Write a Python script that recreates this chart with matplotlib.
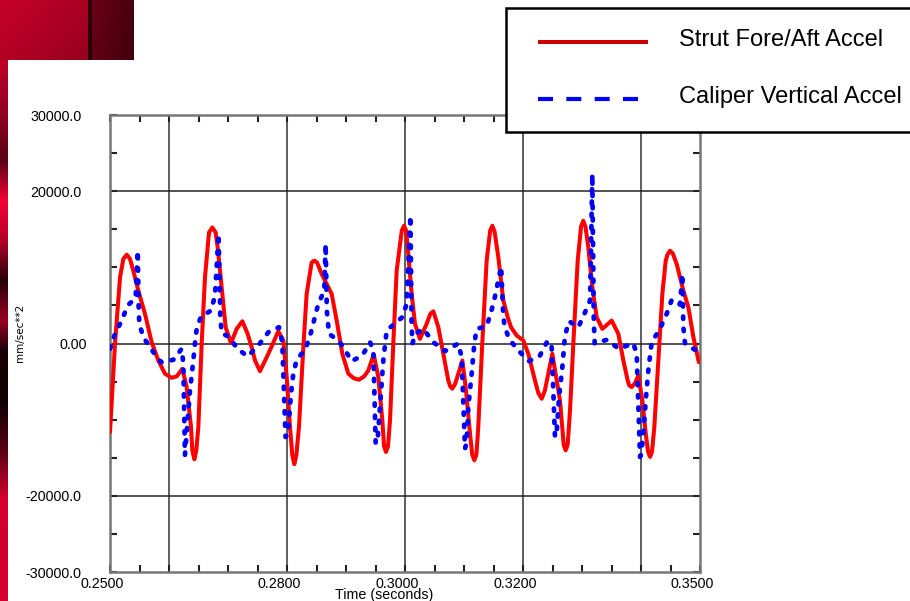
import numpy as np
import matplotlib
matplotlib.use('Agg')
import matplotlib.pyplot as plt
from matplotlib.lines import Line2D
from matplotlib.patches import Rectangle
import matplotlib.transforms as mtransforms

# ---------------- data ----------------
series_names = ["Strut Fore/Aft Accel", "Caliper Vertical Accel"]

strut_t = [0.2500, 0.25085, 0.2517, 0.25226, 0.25283, 0.25339, 0.25395, 0.2548, 0.25593,
           0.25706, 0.25819, 0.25932, 0.26045, 0.2613, 0.26226, 0.26299, 0.26373, 0.26395,
           0.2643, 0.26463, 0.26497, 0.26554, 0.2661, 0.26678, 0.26734, 0.26791, 0.26825,
           0.26893, 0.2696, 0.2705, 0.27147, 0.27243, 0.27333, 0.27401, 0.27458, 0.27542,
           0.27684, 0.27853, 0.27938, 0.27995, 0.28051, 0.2809, 0.28124, 0.28158, 0.28203,
           0.28277, 0.28333, 0.28418, 0.28463, 0.28508, 0.28588, 0.28757, 0.28842, 0.28938,
           0.2904, 0.2913, 0.2922, 0.2931, 0.29378, 0.2947, 0.29548, 0.29616, 0.29645,
           0.29678, 0.29712, 0.29746, 0.29802, 0.29859, 0.29945, 0.29983, 0.3002, 0.30056,
           0.30113, 0.30169, 0.30254, 0.30367, 0.3043, 0.3048, 0.30565, 0.3065, 0.30734,
           0.30765, 0.30802, 0.3085, 0.30904, 0.30972, 0.31028, 0.31102, 0.3114, 0.31175,
           0.3121, 0.31242, 0.3131, 0.31384, 0.31443, 0.3148, 0.31518, 0.31582, 0.31667,
           0.31741, 0.31797, 0.31893, 0.32006, 0.3209, 0.32203, 0.3226, 0.32317, 0.3237,
           0.32429, 0.32497, 0.32571, 0.32627, 0.3269, 0.32723, 0.32757, 0.32797, 0.32853,
           0.32927, 0.32985, 0.33022, 0.3306, 0.33107, 0.33175, 0.33249, 0.33345, 0.33503,
           0.33616, 0.33701, 0.33774, 0.338, 0.33842, 0.339, 0.33955, 0.34023, 0.3408,
           0.3412, 0.34153, 0.34187, 0.34226, 0.34294, 0.34362, 0.34419, 0.3445, 0.34492,
           0.3454, 0.34605, 0.34718, 0.34803, 0.34888, 0.3498]
strut_v = [-11620, 0, 8690, 11100, 11660, 11100, 9560, 6940, 3890,
           170, -2230, -3970, -4500, -4320, -3320, -5720, -10960, -14020,
           -15200, -14020, -10960, 0, 8690, 14580, 15240, 14580, 12620,
           7380, 2140, 40, 1920, 2920, 1270, -480, -2230, -3630,
           -1350, 1610, 390, -4410, -10960, -14670, -15850, -14670, -10960,
           -480, 6510, 10650, 10870, 10650, 9130, 6510, 3010, -1350,
           -3970, -4550, -4760, -4300, -3540, -1440, -4410, -10090, -13500,
           -14240, -13500, -10090, 0, 9560, 14800, 15460, 14800, 11750,
           6510, 2580, 610, 2580, 3900, 4230, 2140, -1350, -4850,
           -5600, -5930, -5300, -3970, -2230, -5720, -11830, -14600, -15330,
           -14600, -10960, 0, 10870, 14800, 15460, 14700, 11310, 5630,
           3450, 2140, 1050, 390, -1350, -4850, -6500, -7250, -6200,
           -3970, -1350, -4850, -7470, -13300, -14020, -13300, -8780, 0,
           10870, 15400, 16110, 15300, 12620, 7380, 3450, 1920, 3010,
           1270, -2230, -4850, -5500, -5720, -5200, -4190, -7470, -11830,
           -14200, -14890, -14200, -10960, -2230, 6510, 10870, 11700, 12180,
           11800, 10440, 6940, 4750, 830, -2450]

caliper_t = [0.2500, 0.25085, 0.25198, 0.25299, 0.25435, 0.2547, 0.25485, 0.25497, 0.25565,
             0.25706, 0.25864, 0.26073, 0.26215, 0.26243, 0.2627, 0.26356, 0.26412, 0.2644,
             0.26469, 0.26542, 0.26712, 0.26779, 0.2684, 0.2687, 0.26893, 0.27006, 0.27164,
             0.27333, 0.27514, 0.27684, 0.27864, 0.2792, 0.27975, 0.28015, 0.28068, 0.28107,
             0.28164, 0.28316, 0.28407, 0.2853, 0.28632, 0.28655, 0.28675, 0.28712, 0.2887,
             0.28972, 0.29096, 0.29277, 0.29407, 0.29463, 0.29503, 0.29535, 0.29576, 0.29632,
             0.29689, 0.29819, 0.29954, 0.30028, 0.30092, 0.30112, 0.30125, 0.3018, 0.30311,
             0.3048, 0.30678, 0.30904, 0.3096, 0.31017, 0.31045, 0.31073, 0.3113, 0.31175,
             0.31215, 0.31384, 0.31458, 0.31525, 0.3163, 0.3166, 0.31684, 0.31763, 0.31921,
             0.32102, 0.32288, 0.32419, 0.32486, 0.32542, 0.3257, 0.32611, 0.32667, 0.32712,
             0.3278, 0.32938, 0.3304, 0.33136, 0.33175, 0.332, 0.33215, 0.33418, 0.33627,
             0.33869, 0.33927, 0.33983, 0.34005, 0.3404, 0.3408, 0.34124, 0.34181, 0.34322,
             0.34435, 0.3452, 0.34661, 0.34701, 0.34718, 0.34746, 0.34915, 0.34972]
caliper_v = [-700, 1270, 3010, 4980, 5990, 12180, 5000, 2580, 830,
             -830, -2450, -2140, -700, -2660, -14670, -6160, -2230, 0,
             1920, 3540, 4320, 6290, 14370, 3450, 1350, 920, -700,
             -1700, -260, 1480, 2140, 170, -12270, -12000, -6590, -3970,
             -2140, -700, 1480, 5200, 6940, 13060, 4320, 1270, 390,
             -700, -2320, -1570, 170, -920, -13140, -12800, -8340, -2230,
             1700, 2580, 3450, 5200, 16770, 2500, 0, 1270, 1920,
             170, -1000, 0, -1790, -13800, -13000, -8340, -3970, 0,
             1920, 2270, 4100, 6160, 10090, 4500, 2360, 610, -920,
             -2320, -1570, 390, -480, -12270, -11800, -7030, -3100, 1050,
             2920, 2140, 3890, 5630, 22230, 3000, 0, 480, -700,
             40, -1350, -14890, -14500, -11830, -7470, -3540, 170, 1920,
             3890, 5720, 5110, 9130, 2140, 0, -830, -920]

x_limits = (0.25, 0.35)
y_limits = (-30000, 30000)
x_label_values = [0.25, 0.28, 0.30, 0.32, 0.35]
x_grid_values = [0.26, 0.28, 0.30, 0.32, 0.34]
y_label_map = {30000: "30000.0", 20000: "20000.0", 0: "0.00",
               -20000: "-20000.0", -30000: "-30000.0"}
y_grid_values = [20000, 0, -20000]
x_title = "Time (seconds)"
y_title = "mm/sec**2"

# ---------------- figure ----------------
W, H = 910, 601
fig = plt.figure(figsize=(W / 100, H / 100), dpi=100)
fig.patch.set_facecolor("white")


def fx(x):
    return x / W


def fy(y):
    return 1 - y / H


# decorative slide background (dark red corner and left strip)
bg = np.ones((H, W, 3))
xs = np.arange(W)
blk_r = np.where(xs < 88, 0.78 - 0.12 * xs / 88.0,
                 np.where(xs < 92, 0.18, 0.42 - 0.14 * (xs - 92) / 42.0))
for yrow in range(0, 60):
    shade = 1.0 - 0.1 * yrow / 60.0
    r = blk_r[:134] * shade
    bg[yrow, :134, 0] = r
    bg[yrow, :134, 1] = 0.0
    bg[yrow, :134, 2] = r * 0.2
prof_y = [60, 120, 160, 200, 240, 280, 320, 350, 400, 450, 500, 540, 601]
prof_l = [0.75, 0.55, 0.35, 0.95, 0.7, 0.15, 0.6, 0.1, 0.05, 0.35, 0.85, 0.8, 0.85]
lev = np.interp(np.arange(H), prof_y, prof_l)
for yrow in range(60, H):
    bg[yrow, :8, 0] = lev[yrow]
    bg[yrow, :8, 1] = 0.0
    bg[yrow, :8, 2] = lev[yrow] * 0.22
fig.figimage(bg, xo=0, yo=0, origin="upper", zorder=-5)

tick_font = ["Liberation Sans", "DejaVu Sans"]

ax = fig.add_axes([fx(110), fy(572), (700 - 110) / W, (572 - 115) / H])
ax.set_zorder(2)
ax.set_facecolor("white")
ax.set_xlim(*x_limits)
ax.set_ylim(*y_limits)

xt = np.round(np.arange(x_limits[0], x_limits[1] + 1e-9, 0.005), 3)
ax.set_xticks(xt)
ax.set_xticklabels([f"{v:.4f}" if any(abs(v - lv) < 1e-9 for lv in x_label_values) else ""
                    for v in xt])
yt = np.arange(y_limits[0], y_limits[1] + 1, 5000)
ax.set_yticks(yt)
ax.set_yticklabels([y_label_map.get(int(v), "") for v in yt])

ax.tick_params(axis="both", direction="in", length=5, width=1.5, color="#222222",
               top=True, right=True, labelsize=10.3, labelcolor="black")
ax.tick_params(axis="y", pad=20.5)
ax.tick_params(axis="x", pad=3.5)
for lbl in ax.get_xticklabels() + ax.get_yticklabels():
    lbl.set_family(tick_font)

shift_x = mtransforms.ScaledTranslation(-0.08, 0, fig.dpi_scale_trans)
for lbl in ax.get_xticklabels():
    lbl.set_transform(lbl.get_transform() + shift_x)
shift_zero = mtransforms.ScaledTranslation(0.05, 0, fig.dpi_scale_trans)
for lbl in ax.get_yticklabels():
    if lbl.get_text() == "0.00":
        lbl.set_transform(lbl.get_transform() + shift_zero)

for s in ax.spines.values():
    s.set_color("#777777")
    s.set_linewidth(1.8)

for g in x_grid_values:
    ax.axvline(g, color="#333333", lw=1.1, zorder=1)
for g in y_grid_values:
    ax.axhline(g, color="#222222", lw=1.1, zorder=1)

ax.plot(strut_t, strut_v, color="#FF0000", lw=2.9, solid_capstyle="round",
        solid_joinstyle="round", zorder=3, label=series_names[0])
ax.plot(caliper_t, caliper_v, color="#0000FF", lw=3.4, linestyle=(0, (0.5, 2.1)),
        dash_capstyle="round", zorder=4, label=series_names[1])

# axis titles
fig.text(fx(384.5), fy(594.5), x_title, ha="center", va="center", fontsize=10.3,
         family=tick_font)
fig.text(fx(20), fy(333), y_title, ha="center", va="center", rotation=90,
         fontsize=7.5, family=["DejaVu Sans"])

# legend box (partly beyond the right edge, as in the reference)
fig.add_artist(Rectangle((fx(505.5), fy(132)), fx(930) - fx(505.5), (132 - 8.5) / H,
                         transform=fig.transFigure, facecolor="white",
                         edgecolor="black", lw=1.8, zorder=5))
fig.add_artist(Line2D([fx(538), fx(648)], [fy(42), fy(42)], transform=fig.transFigure,
                      color="#CC0000", lw=2.9, solid_capstyle="butt", zorder=6))
fig.add_artist(Line2D([fx(538), fx(640)], [fy(99), fy(99)], transform=fig.transFigure,
                      color="#0000FF", lw=3.0, linestyle=(0, (3.6, 3.2)),
                      dash_capstyle="butt", zorder=6))
fig.text(fx(679), fy(46), series_names[0], ha="left", va="baseline", fontsize=17,
         family=["Liberation Sans", "DejaVu Sans"], zorder=7)
fig.text(fx(679), fy(102.5), series_names[1], ha="left", va="baseline", fontsize=17,
         family=["Liberation Sans", "DejaVu Sans"], zorder=7)

fig.savefig("out.png", dpi=100)
